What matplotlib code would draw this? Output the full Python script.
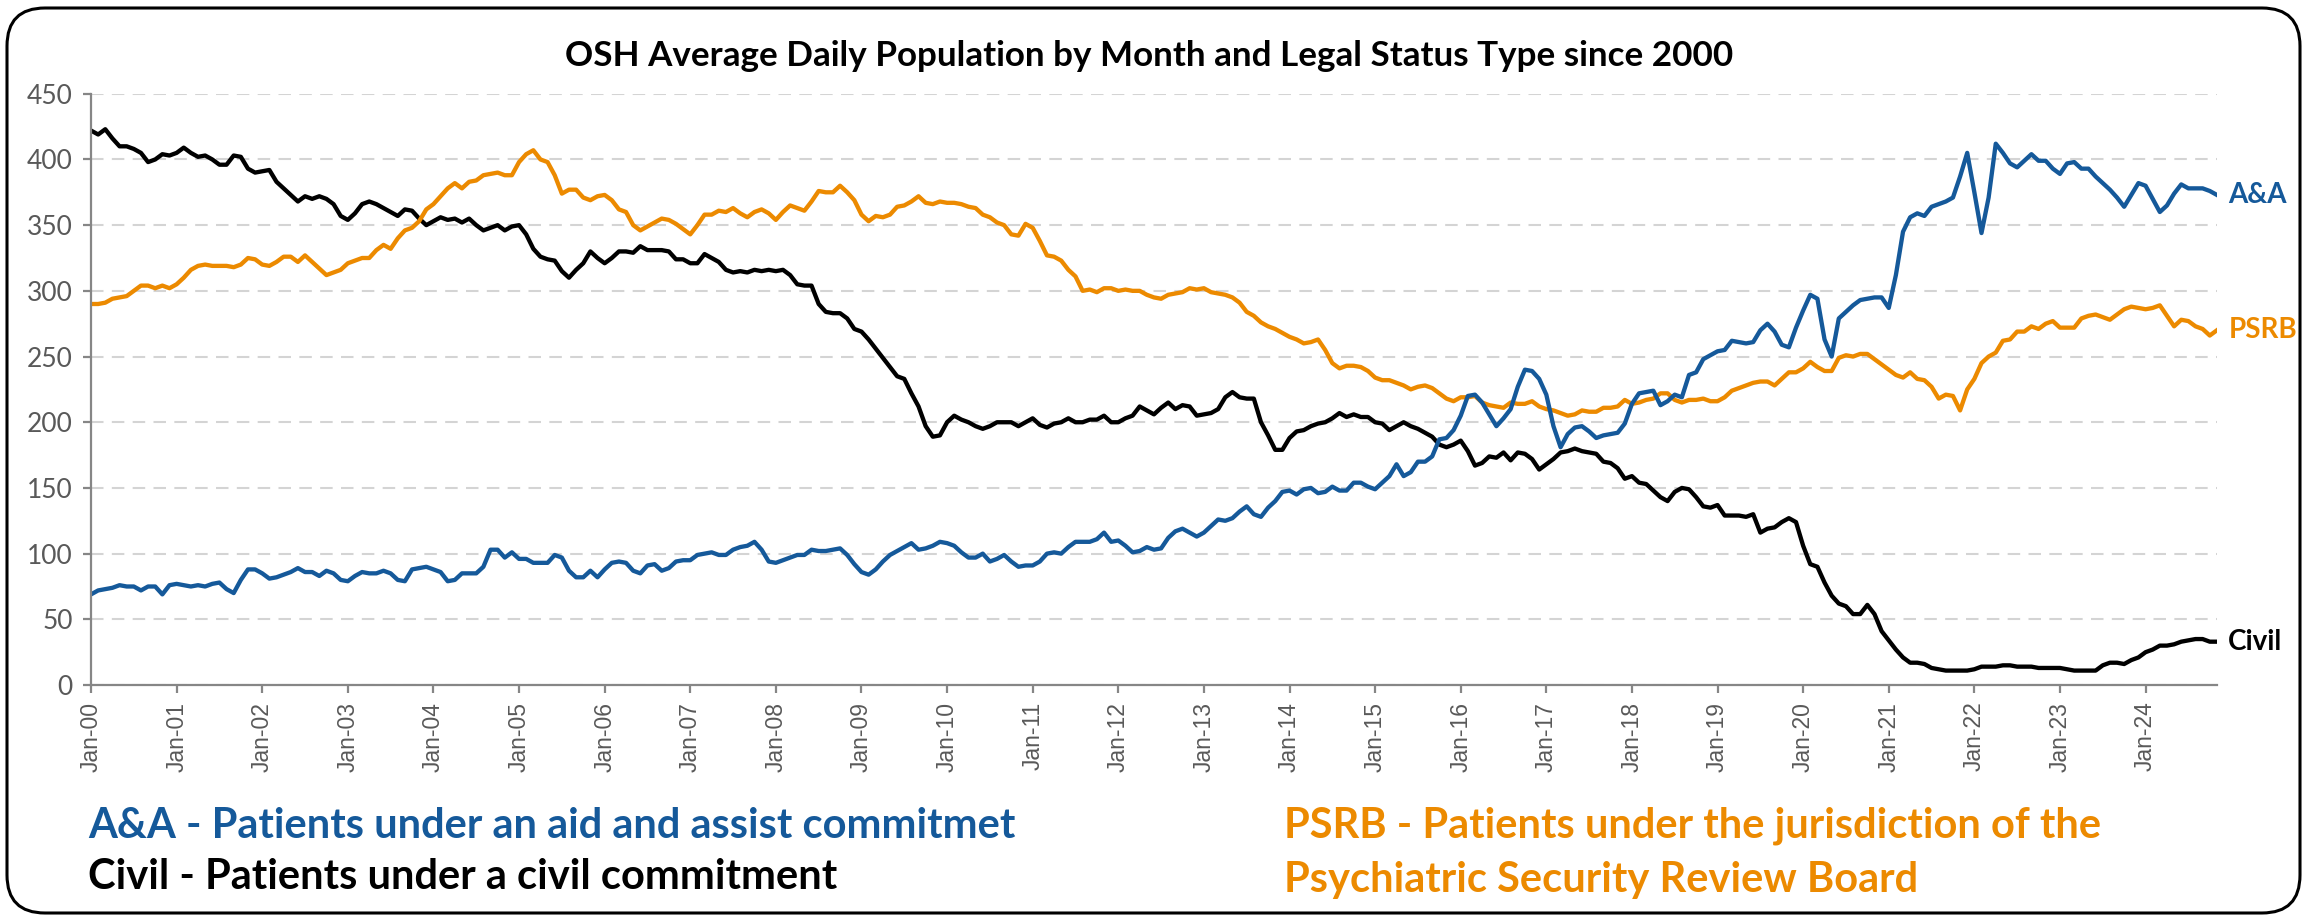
import numpy as np
import matplotlib.pyplot as plt
from matplotlib.patches import FancyBboxPatch

# ================= DATA =================
# OSH average daily population, monthly from Jan 2000 to Nov 2024
civil = [
    422, 419, 423, 416, 410, 410, 408, 405, 398, 400,
    404, 403, 405, 409, 405, 402, 403, 400, 396, 396,
    403, 402, 393, 390, 391, 392, 383, 378, 373, 368,
    372, 370, 372, 370, 366, 357, 354, 359, 366,
    368, 366, 363, 360, 357, 362, 361, 355, 350, 353,
    356, 354, 355, 352, 355, 350, 346, 348, 350, 346,
    349, 350, 343, 332, 326, 324, 323, 315, 310, 316,
    321, 330, 325, 321, 325, 330, 330, 329, 334, 331,
    331, 331, 330, 324, 324, 321, 321, 328, 325, 322,
    316, 314, 315, 314, 316, 315, 316, 315, 316, 312,
    305, 304, 304, 290, 284, 283, 283, 279, 271, 269,
    263, 256, 249, 242, 235, 233, 222, 212, 197, 189,
    190, 200, 205, 202, 200, 197, 195, 197, 200, 200,
    200, 197, 200, 203, 198, 196, 199, 200, 203, 200,
    200, 202, 202, 205, 200, 200, 203, 205, 212, 209,
    206, 211, 215, 210, 213, 212, 205, 206, 207, 210,
    219, 223, 219, 218, 218, 200, 190, 179, 179, 188,
    193, 194, 197, 199, 200, 203, 207, 204, 206, 204,
    204, 200, 199, 194, 197, 200, 197, 195, 192, 189,
    183, 181, 183, 186, 178, 167, 169, 174, 173, 177,
    171, 177, 176, 172, 164, 168, 172, 177, 178, 180,
    178, 177, 176, 170, 169, 165, 157, 159, 154, 153,
    148, 143, 140, 147, 150, 149, 143, 136, 135, 137,
    129, 129, 129, 128, 130, 116, 119, 120, 124, 127,
    124, 106, 92, 90, 78, 68, 62, 60, 54, 54,
    61, 54, 41, 34, 27, 21, 17, 17, 16, 13,
    12, 11, 11, 11, 11, 12, 14, 14, 14, 15,
    15, 14, 14, 14, 13, 13, 13, 13, 12, 11,
    11, 11, 11, 15, 17, 17, 16, 19, 21, 25,
    27, 30, 30, 31, 33, 34, 35, 35, 33, 33,
]

psrb = [
    290, 290, 291, 294, 295, 296, 300, 304, 304, 302,
    304, 302, 305, 310, 316, 319, 320, 319, 319, 319,
    318, 320, 325, 324, 320, 319, 322, 326, 326, 322,
    327, 322, 317, 312, 314, 316, 321, 323, 325,
    325, 331, 335, 332, 340, 346, 348, 353, 362, 366,
    372, 378, 382, 378, 383, 384, 388, 389, 390, 388,
    388, 398, 404, 407, 400, 398, 388, 374, 377, 377,
    371, 369, 372, 373, 369, 362, 360, 350, 346, 349,
    352, 355, 354, 351, 347, 343, 350, 358, 358, 361,
    360, 363, 359, 356, 360, 362, 359, 354, 360, 365,
    363, 361, 368, 376, 375, 375, 380, 375, 369, 358,
    353, 357, 356, 358, 364, 365, 368, 372, 367, 366,
    368, 367, 367, 366, 364, 363, 358, 356, 352, 350,
    343, 342, 351, 348, 338, 327, 326, 323, 316, 311,
    300, 301, 299, 302, 302, 300, 301, 300, 300, 297,
    295, 294, 297, 298, 299, 302, 301, 302, 299, 298,
    297, 295, 291, 284, 281, 276, 273, 271, 268, 265,
    263, 260, 261, 263, 255, 245, 241, 243, 243, 242,
    239, 234, 232, 232, 230, 228, 225, 227, 228, 226,
    222, 218, 216, 219, 219, 220, 215, 213, 212, 211,
    215, 214, 214, 216, 212, 210, 209, 207, 205, 206,
    209, 208, 208, 211, 211, 212, 217, 214, 215, 217,
    218, 222, 222, 217, 215, 217, 217, 218, 216, 216,
    219, 224, 226, 228, 230, 231, 231, 228, 233, 238,
    238, 241, 246, 242, 239, 239, 249, 251, 250, 252,
    252, 248, 244, 240, 236, 234, 238, 233, 232, 227,
    218, 221, 220, 209, 225, 233, 245, 250, 253, 262,
    263, 269, 269, 273, 271, 275, 277, 272, 272, 272,
    279, 281, 282, 280, 278, 282, 286, 288, 287, 286,
    287, 289, 281, 273, 278, 277, 273, 271, 266, 270,
]

aa = [
    69, 72, 73, 74, 76, 75, 75, 72, 75, 75,
    69, 76, 77, 76, 75, 76, 75, 77, 78, 73,
    70, 80, 88, 88, 85, 81, 82, 84, 86, 89,
    86, 86, 83, 87, 85, 80, 79, 83, 86,
    85, 85, 87, 85, 80, 79, 88, 89, 90, 88,
    86, 79, 80, 85, 85, 85, 90, 103, 103, 97,
    101, 96, 96, 93, 93, 93, 99, 97, 87, 82,
    82, 87, 82, 88, 93, 94, 93, 87, 85, 91,
    92, 87, 89, 94, 95, 95, 99, 100, 101, 99,
    99, 103, 105, 106, 109, 103, 94, 93, 95, 97,
    99, 99, 103, 102, 102, 103, 104, 99, 92, 86,
    84, 88, 94, 99, 102, 105, 108, 103, 104, 106,
    109, 108, 106, 101, 97, 97, 100, 94, 96, 99,
    94, 90, 91, 91, 94, 100, 101, 100, 105, 109,
    109, 109, 111, 116, 109, 110, 106, 101, 102, 105,
    103, 104, 112, 117, 119, 116, 113, 116, 121, 126,
    125, 127, 132, 136, 130, 128, 135, 140, 147, 148,
    145, 149, 150, 146, 147, 151, 148, 148, 154, 154,
    151, 149, 154, 159, 168, 159, 162, 170, 170, 174,
    187, 188, 194, 205, 220, 221, 215, 206, 197, 203,
    210, 227, 240, 239, 233, 221, 197, 181, 191, 196,
    197, 193, 188, 190, 191, 192, 199, 214, 222, 223,
    224, 213, 216, 221, 219, 236, 238, 248, 251, 254,
    255, 262, 261, 260, 261, 270, 275, 269, 259, 257,
    272, 285, 297, 294, 263, 250, 279, 284, 289, 293,
    294, 295, 295, 287, 312, 345, 356, 359, 357, 364,
    366, 368, 371, 387, 405, 375, 344, 371, 412, 405,
    397, 394, 399, 404, 399, 399, 393, 389, 397, 398,
    393, 393, 387, 382, 377, 371, 364, 373, 382, 380,
    370, 360, 365, 374, 381, 378, 378, 378, 376, 373,
]

tick_labels = [
    "Jan-00", "Jan-01", "Jan-02", "Jan-03", "Jan-04", "Jan-05", "Jan-06",
    "Jan-07", "Jan-08", "Jan-09", "Jan-10", "Jan-11", "Jan-12", "Jan-13",
    "Jan-14", "Jan-15", "Jan-16", "Jan-17", "Jan-18", "Jan-19", "Jan-20",
    "Jan-21", "Jan-22", "Jan-23", "Jan-24",
]

# ================= STYLE =================
BLUE = "#15599A"
ORANGE = "#EC8A00"
BLACK = "#000000"
GREY = "#868686"

plt.rcParams["font.family"] = ["Lato", "DejaVu Sans"]

months = np.arange(len(aa))

fig = plt.figure(figsize=(23.1, 9.21), dpi=100)

# rounded frame round the whole picture
frame = FancyBboxPatch((0.07, 0.08), 22.93, 9.05,
                       boxstyle="round,pad=0,rounding_size=0.38",
                       transform=fig.dpi_scale_trans,
                       facecolor="none", edgecolor="black", linewidth=2.2,
                       zorder=-1)
fig.patches.append(frame)

ax = fig.add_axes([0.0394, 0.2562, 0.9203, 0.642])
ax.set_facecolor("none")

ax.plot(months, civil, color=BLACK, lw=3.1, solid_joinstyle="round")
ax.plot(months, psrb, color=ORANGE, lw=3.1, solid_joinstyle="round")
ax.plot(months, aa, color=BLUE, lw=3.1, solid_joinstyle="round")

ax.set_xlim(0, len(aa) - 1)
ax.set_ylim(0, 450)
ax.set_yticks(range(0, 451, 50))
ax.set_xticks(range(0, len(aa), 12))
ax.set_xticklabels(tick_labels, rotation=90, family=["Liberation Sans", "DejaVu Sans"])

ax.yaxis.grid(True, linestyle=(0, (6, 4)), color="#D4D4D4", lw=1.5)
ax.set_axisbelow(True)

for side in ["top", "right"]:
    ax.spines[side].set_visible(False)
for side in ["left", "bottom"]:
    ax.spines[side].set_color(GREY)
    ax.spines[side].set_linewidth(1.6)

ax.tick_params(axis="both", direction="out", length=6, width=1.6, color=GREY)
ax.tick_params(axis="y", labelsize=19, labelcolor="#595959", pad=7)
ax.tick_params(axis="x", labelsize=16.5, labelcolor="#595959", pad=6)

# series names at the end of each line
last = len(aa) - 1
ax.text(last + 1.6, aa[-1], "A&A", color=BLUE, fontsize=20, weight="bold", va="center", clip_on=False)
ax.text(last + 1.6, psrb[-1], "PSRB", color=ORANGE, fontsize=20, weight="bold", va="center", clip_on=False)
ax.text(last + 1.6, civil[-1], "Civil", color=BLACK, fontsize=20, weight="bold", va="center", clip_on=False)

# ================= TEXT =================
fig.text(0.4975, 1 - 56 / 921, "OSH Average Daily Population by Month and Legal Status Type since 2000",
         ha="center", va="center", fontsize=25.2, weight="bold")

fig.text(88 / 2310, 1 - 826 / 921, "A&A - Patients under an aid and assist commitmet",
         color=BLUE, fontsize=30, weight="bold", va="center")
fig.text(88 / 2310, 1 - 877 / 921, "Civil - Patients under a civil commitment",
         color=BLACK, fontsize=30, weight="bold", va="center")
fig.text(1284 / 2310, 1 - 826 / 921, "PSRB - Patients under the jurisdiction of the",
         color=ORANGE, fontsize=30, weight="bold", va="center")
fig.text(1284 / 2310, 1 - 880 / 921, "Psychiatric Security Review Board",
         color=ORANGE, fontsize=30, weight="bold", va="center")

fig.savefig("out.png", dpi=100)
